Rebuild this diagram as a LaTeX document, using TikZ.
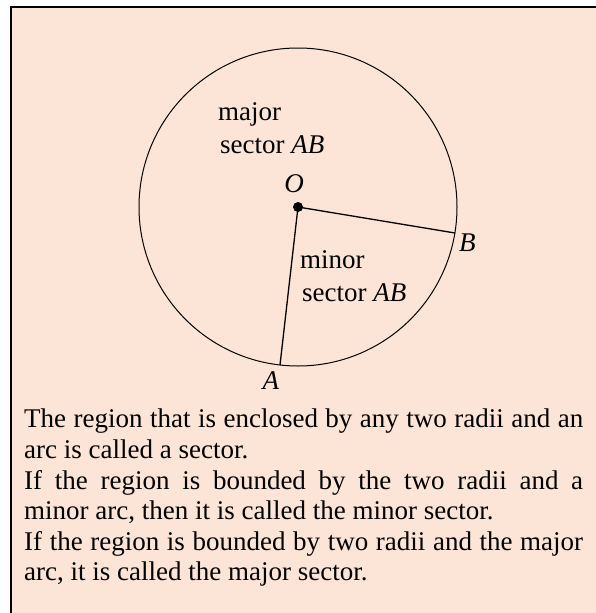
\documentclass[tikz,border=0pt]{standalone}
\usepackage{fontspec}
\setmainfont{Liberation Serif}
\usetikzlibrary{positioning}

\definecolor{sectorbg}{HTML}{FCE4D6}

\begin{document}
\begin{tikzpicture}[x=1pt, y=-1pt]
    % 自定义命令：标签字号
    \newcommand{\LabelFont}{\fontsize{27}{31}\selectfont}

    % --- 设置样式 ---
    \tikzset{LabelStyle/.style = {
        inner sep=0pt,          % 内边距
        anchor=base west,       % 基线对齐
        font=\LabelFont         % 字体设置
    }}
    \tikzset{RadiusStyle/.style = {
        line width=1.3pt,       % 线条粗细
        color=black             % 线条颜色
    }}

    % 画布大小
    \useasboundingbox (0,0) rectangle (595,613);

    % --- 背景框 ---
    \draw[fill=sectorbg, line width=2pt] (11,7) rectangle (640,660);

    % --- 圆与半径 ---
    \coordinate (O) at (298,207);
    \coordinate (A) at (280,365);
    \coordinate (B) at (455,233);

    \draw[line width=1pt] (O) circle (159);
    \draw[RadiusStyle] (O) -- (A);
    \draw[RadiusStyle] (O) -- (B);
    \fill (O) circle (5);

    % --- 点的标签 ---
    \node[LabelStyle, anchor=base] (labO) at (294,192) {\textit{O}};
    \node[LabelStyle] (labB) at (459,251) {\textit{B}};
    \node[LabelStyle, anchor=base] (labA) at (271,389) {\textit{A}};

    % --- 扇形的标签 ---
    \node[LabelStyle] (major) at (218,120) {major};
    \node[LabelStyle] (majorAB) at (220,153) {sector \textit{AB}};
    \node[LabelStyle] (minor) at (300,268) {minor};
    \node[LabelStyle] (minorAB) at (302,301) {sector \textit{AB}};

    % --- 说明文字 ---
    \node[inner sep=0pt, anchor=north west, text width=559pt, align=justify,
          font=\fontsize{27}{30.6}\selectfont] (note) at (24,409)
      {The region that is enclosed by any two radii and an\linebreak
       arc is called a sector.\par
       If the region is bounded by the two radii and a\linebreak
       minor arc, then it is called the minor sector.\par
       If the region is bounded by two radii and the major\linebreak
       arc, it is called the major sector.};

\end{tikzpicture}
\end{document}
